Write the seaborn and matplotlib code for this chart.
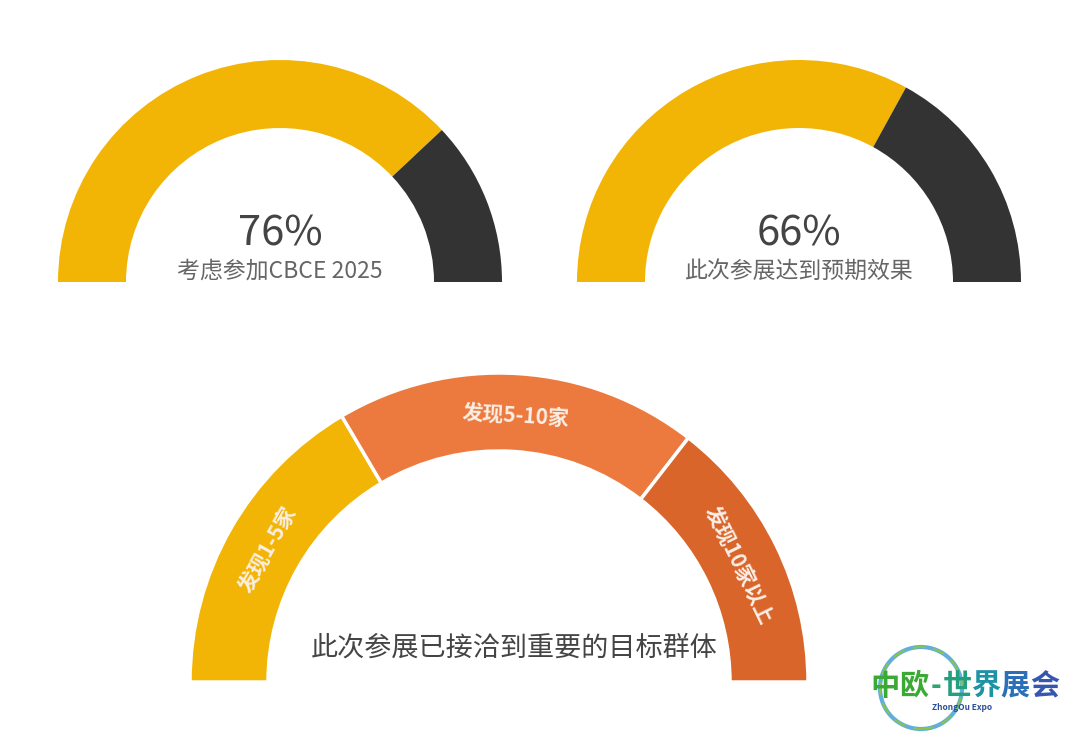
import matplotlib
matplotlib.use("Agg")
import matplotlib.pyplot as plt
import numpy as np
import seaborn as sns
from matplotlib.patches import Circle

# ---------------------------------------------------------------------------
# Data
# ---------------------------------------------------------------------------

GAUGE_VALUES = [76, 66]
GAUGE_LABELS = ["考虑参加CBCE 2025", "此次参展达到预期效果"]

TARGET_SEGMENTS = ["发现1-5家", "发现5-10家", "发现10家以上"]
TARGET_SHARES = [33, 38, 29]
TARGET_TITLE = "此次参展已接洽到重要的目标群体"

YELLOW = "#F3B505"
DARK = "#333333"
ORANGE = "#EC7A3F"
DEEP_ORANGE = "#D9652B"

sns.set_theme(style="white")
plt.rcParams["font.family"] = ["Noto Sans CJK SC", "DejaVu Sans"]

W, H = 1080, 740
fig = plt.figure(figsize=(W / 100, H / 100), dpi=100)
ax = fig.add_axes([0, 0, 1, 1])


def half_donut(ax, values, colors, center, radius, width, sep=None):
    total = sum(values)
    wp = dict(width=width, linewidth=0)
    if sep:
        wp = dict(width=width, edgecolor="white", linewidth=sep)
    wedges, _ = ax.pie(
        list(values) + [total],
        colors=list(colors) + ["none"],
        startangle=180, counterclock=False,
        center=center, radius=radius, wedgeprops=wp,
    )
    wedges[-1].set_edgecolor("none")
    return wedges


# top gauges
centers = [(280, H - 282), (799, H - 282)]
for val, lab, c in zip(GAUGE_VALUES, GAUGE_LABELS, centers):
    half_donut(ax, [val, 100 - val], [YELLOW, DARK], c, 222, 68)
    ax.text(c[0], c[1] + 48, f"{val}%", ha="center", va="center",
            fontsize=30, color="#444444")
    ax.text(c[0], c[1] + 11, lab, ha="center", va="center",
            fontsize=16.5, color="#666666")

# bottom gauge
bc = (499, H - 682)
r_out, ring = 309, 78
half_donut(ax, TARGET_SHARES, [YELLOW, ORANGE, DEEP_ORANGE], bc, r_out, ring, sep=2.5)

cum = np.cumsum([0] + TARGET_SHARES)
total = cum[-1]
r_mid = r_out - ring / 2 - 3
for name, a, b in zip(TARGET_SEGMENTS, cum[:-1], cum[1:]):
    ang = 180 - (a + b) / 2 / total * 180
    x = bc[0] + r_mid * np.cos(np.radians(ang))
    y = bc[1] + r_mid * np.sin(np.radians(ang))
    ax.text(x, y, name, ha="center", va="center", rotation=ang - 90,
            rotation_mode="anchor", fontsize=15, fontweight="bold",
            color="#FBEFE6")

ax.text(514, H - 648, TARGET_TITLE, ha="center", va="center",
        fontsize=19.5, color="#444444")

# logo
ax.add_patch(Circle((921, H - 688), 41, fill=False, lw=3, ec="#3A9BD1", alpha=0.8))
ax.add_patch(Circle((921, H - 688), 41, fill=False, lw=1.5, ec="#8CC63F",
                    alpha=0.9, ls=(0, (6, 4))))
logo_chars = ["中", "欧", "-", "世", "界", "展", "会"]
logo_cols = ["#3AAA35", "#3AAA35", "#2FA56B", "#22A07E", "#1E93A5", "#2A6FB8", "#3557B0"]
lx = [885, 914, 936, 957, 986, 1015, 1045]
for ch, col, x in zip(logo_chars, logo_cols, lx):
    ax.text(x, H - 686, ch, ha="center", va="center", fontsize=21,
            fontweight="black", color=col)
ax.text(962, H - 707, "ZhongOu Expo", ha="center", va="center",
        fontsize=6, style="italic", fontweight="bold", color="#2A4F9A")

ax.set_xlim(0, W)
ax.set_ylim(0, H)
ax.set_aspect("equal")
ax.axis("off")

fig.savefig("out.png", dpi=100, facecolor="white")
